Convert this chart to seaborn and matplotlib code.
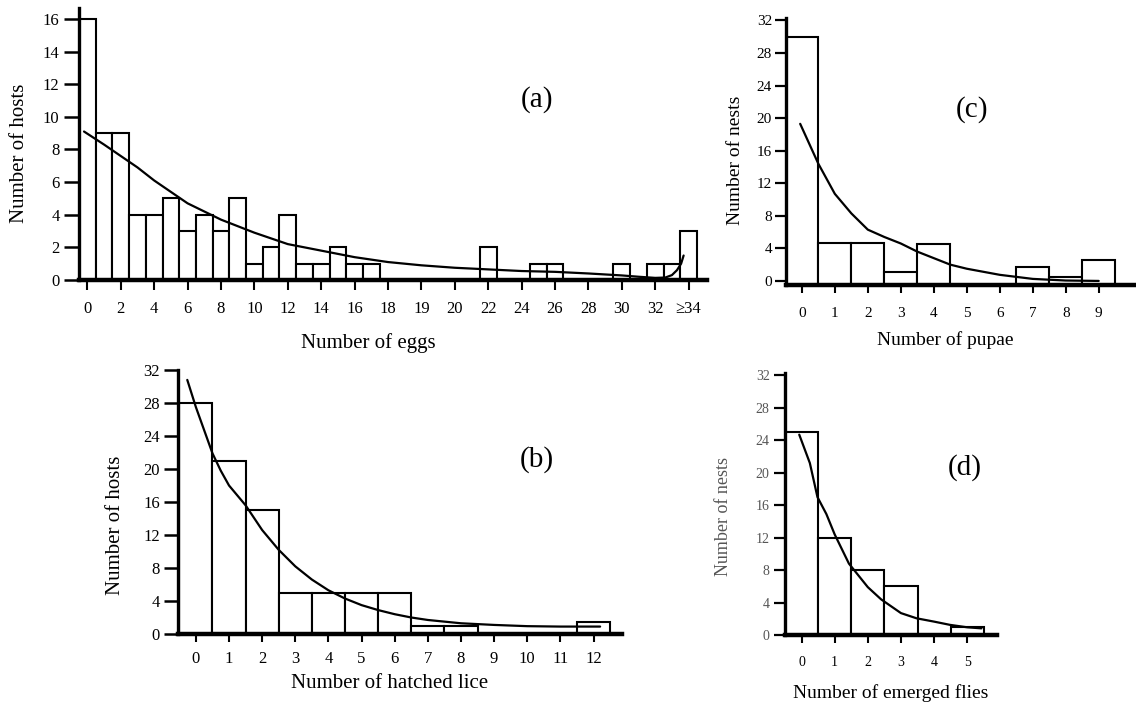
import matplotlib.pyplot as plt
import seaborn as sns

# (a) eggs per host -- bar slots follow the printed axis (one slot per bar)
egg_slots = list(range(18)) + [24, 27, 28, 32, 34, 35, 36]
egg_hosts = [16, 9, 9, 4, 4, 5, 3, 4, 3, 5, 1, 2, 4, 1, 1, 2, 1, 1,
             2, 1, 1, 1, 1, 1, 3]
egg_ticks = list(range(0, 37, 2))
egg_labels = ['0', '2', '4', '6', '8', '10', '12', '14', '16', '18', '19',
              '20', '22', '24', '26', '28', '30', '32', '≥34']
egg_fit_x = [-0.2, 1, 2, 3, 4, 5, 6, 8, 10, 12, 14, 16, 18, 20, 22, 24, 26,
             28, 30, 32, 33, 34, 34.6, 35.0, 35.3, 35.55, 35.7]
egg_fit_y = [9.1, 8.3, 7.6, 6.9, 6.1, 5.4, 4.7, 3.7, 2.9, 2.2, 1.8, 1.4, 1.1,
             0.9, 0.75, 0.65, 0.55, 0.5, 0.4, 0.28, 0.2, 0.13, 0.15, 0.3,
             0.6, 1.0, 1.5]

# (b) hatched lice per host
lice_counts = [0, 1, 2, 3, 4, 5, 6, 7, 8, 12]
lice_hosts = [28, 21, 15, 5, 5, 5, 5, 1, 1, 1.4]
lice_fit_x = [-0.26, 0, 0.25, 0.5, 0.75, 1, 1.5, 2, 2.5, 3, 3.5, 4, 4.5, 5,
              5.5, 6, 6.5, 7, 8, 9, 10, 11, 12.2]
lice_fit_y = [30.8, 27.5, 24.7, 21.9, 19.8, 18.0, 15.6, 12.6, 10.2, 8.2, 6.6,
              5.3, 4.3, 3.5, 2.9, 2.4, 2.0, 1.7, 1.3, 1.1, 0.95, 0.9, 0.9]

# (c) pupae per nest
pupae_counts = [0, 1, 2, 3, 4, 7, 8, 9]
pupae_nests = [30, 4.7, 4.7, 1.1, 4.5, 1.7, 0.5, 2.6]
pupae_fit_x = [-0.05, 0.5, 1, 1.5, 2, 2.5, 3, 3.5, 4, 4.5, 5, 6, 7, 8, 9]
pupae_fit_y = [19.3, 14.4, 10.7, 8.3, 6.3, 5.4, 4.6, 3.6, 2.8, 2.0, 1.5, 0.75,
               0.25, 0.05, 0.0]

# (d) emerged flies per nest
flies_counts = [0, 1, 2, 3, 5]
flies_nests = [25, 12, 8, 6, 1]
flies_fit_x = [-0.07, 0.25, 0.48, 0.75, 1, 1.43, 2, 2.4, 3, 3.47, 4, 4.48,
               5, 5.43]
flies_fit_y = [24.7, 21.2, 17.0, 14.9, 12.4, 8.8, 5.9, 4.4, 2.7, 2.06, 1.65,
               1.25, 0.95, 0.82]

sns.set_style('ticks', {'axes.edgecolor': 'black', 'xtick.color': 'black',
                        'ytick.color': 'black', 'text.color': 'black',
                        'axes.labelcolor': 'black'})
plt.rcParams['font.family'] = ['Liberation Serif', 'DejaVu Serif']

W, H = 1136, 706
fig = plt.figure(figsize=(W / 100, H / 100), dpi=100)


def box(left, top, right, bottom):
    return [left / W, 1 - bottom / H, (right - left) / W, (bottom - top) / H]


def put(x, y, s, size, rot=0, color='black'):
    fig.text(x / W, 1 - y / H, s, ha='center', va='center', fontsize=size,
             rotation=rot, color=color)


def histo(ax, slots, counts, fit_x, fit_y, base=0.0):
    sns.barplot(x=slots, y=counts, native_scale=True, width=1, color='white',
                edgecolor='black', linewidth=1.5, errorbar=None, ax=ax)
    if base:
        for p in ax.patches:
            p.set_y(base)
            p.set_height(p.get_height() - base)
    sns.lineplot(x=fit_x, y=fit_y, color='black', linewidth=1.6,
                 estimator=None, ax=ax)
    sns.despine(ax=ax)
    ax.spines['left'].set_linewidth(2.4)
    ax.spines['bottom'].set_linewidth(3.2)
    ax.set_xlabel('')
    ax.set_ylabel('')


ax_a = fig.add_axes(box(79, 8, 707, 280))
histo(ax_a, egg_slots, egg_hosts, egg_fit_x, egg_fit_y)
ax_a.set_xlim(-0.5, 37.1)
ax_a.set_ylim(0, 16.67)
ax_a.set_xticks(egg_ticks)
ax_a.set_xticklabels(egg_labels)
ax_a.set_yticks(range(0, 17, 2))
ax_a.tick_params(axis='x', length=7, width=1.5, pad=8, labelsize=12)
ax_a.tick_params(axis='y', length=11, width=1.8, pad=3, labelsize=12)

ax_b = fig.add_axes(box(178, 370, 622, 634))
histo(ax_b, lice_counts, lice_hosts, lice_fit_x, lice_fit_y)
ax_b.set_xlim(-0.54, 12.86)
ax_b.set_ylim(0, 32)
ax_b.set_xticks(range(13))
ax_b.set_yticks(range(0, 33, 4))
ax_b.tick_params(axis='x', length=6, width=1.5, pad=6, labelsize=12)
ax_b.tick_params(axis='y', length=10, width=1.8, pad=3, labelsize=12)

ax_c = fig.add_axes(box(786, 18, 1135, 285))
histo(ax_c, pupae_counts, pupae_nests, pupae_fit_x, pupae_fit_y, base=-0.5)
ax_c.set_xlim(-0.48, 10.1)
ax_c.set_ylim(-0.5, 32.3)
ax_c.set_xticks(range(10))
ax_c.set_yticks(range(0, 33, 4))
ax_c.tick_params(axis='x', length=6, width=1.5, pad=10, labelsize=11)
ax_c.tick_params(axis='y', length=8, width=1.6, pad=2, labelsize=11)

ax_d = fig.add_axes(box(785, 373, 997, 635))
histo(ax_d, flies_counts, flies_nests, flies_fit_x, flies_fit_y)
ax_d.set_xlim(-0.5, 5.9)
ax_d.set_ylim(0, 32.3)
ax_d.set_xticks(range(6))
ax_d.set_yticks(range(0, 33, 4))
ax_d.tick_params(axis='x', length=6, width=1.5, pad=9, labelsize=10)
ax_d.tick_params(axis='y', length=8, width=1.6, pad=3, labelsize=10,
                 labelcolor='#555555')

put(368, 343, 'Number of eggs', 15)
put(20, 153, 'Number of hosts', 15, rot=90)
put(537, 100, '(a)', 21)

put(390, 683, 'Number of hatched lice', 15)
put(115, 525, 'Number of hosts', 15, rot=90)
put(537, 460, '(b)', 21)

put(945, 340, 'Number of pupae', 14)
put(735, 160, 'Number of nests', 14, rot=90)
put(972, 110, '(c)', 21)

put(891, 693, 'Number of emerged flies', 14)
put(723, 517, 'Number of nests', 13, rot=90, color='#555555')
put(965, 468, '(d)', 21)

fig.savefig('out.png', dpi=100)
plt.close(fig)
